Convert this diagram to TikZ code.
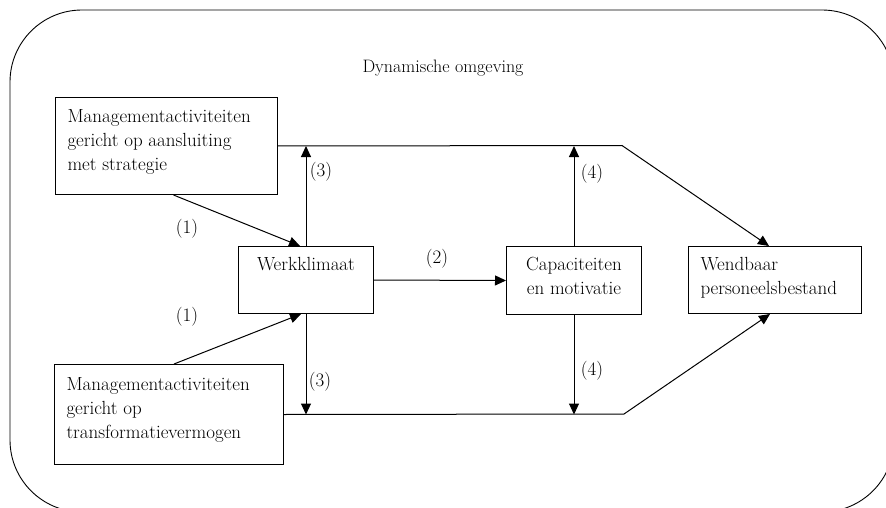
\documentclass[tikz,border=0pt]{standalone}
\usepackage{fontspec}
\setmainfont{Latin Modern Roman}
\usetikzlibrary{arrows.meta}
\begin{document}
\begin{tikzpicture}[x=1pt,y=-1pt,
  font=\fontsize{19}{24}\selectfont,
  blok/.style={draw, line width=1pt, anchor=north west, inner xsep=12pt, inner ysep=0pt},
  pijl/.style={line width=1pt, -{Triangle[length=11pt,width=10pt]}},
  omtrek/.style={line width=.9pt, rounded corners=72pt}]
  \useasboundingbox (0,0) rectangle (886,508);
  % omgeving
  \begin{scope}
    \clip (0,0) rectangle (886,508);
    \draw[omtrek] (10,10) rectangle (894,512);
  \end{scope}
  \node[font=\fontsize{18}{24}\selectfont] (omgeving) at (443,68) {Dynamische omgeving};
  % blokken
  \node[blok] (mgmtA) at (55,97) {\parbox[c][97pt][t]{198pt}{\raggedright\rule{0pt}{25pt}Managementactiviteiten\\ gericht op aansluiting\\ met strategie}};
  \node[blok] (mgmtB) at (54,364) {\parbox[c][100pt][t]{205pt}{\raggedright\rule{0pt}{26pt}Managementactiviteiten\\ gericht op\\ transformatievermogen}};
  \node[blok] (werk) at (238,246) {\parbox[c][67pt][t]{111pt}{\centering\rule{0pt}{24pt}Werkklimaat}};
  \node[blok] (cap) at (506,246) {\parbox[c][68pt][t]{111pt}{\centering\rule{0pt}{24pt}Capaciteiten\\ en motivatie}};
  \node[blok] (wendbaar) at (688,246) {\parbox[c][67pt][t]{149pt}{\raggedright\rule{0pt}{24pt}Wendbaar\\ personeelsbestand}};
  % knikpunten
  \coordinate (bovenknik) at (622,145.5);
  \coordinate (onderknik) at (624,414);
  % pijlen
  \draw[pijl] ([xshift=7pt]mgmtA.south) -- ([xshift=-6pt]werk.north);
  \draw[pijl] ([xshift=5pt]mgmtB.north) -- ([xshift=-5pt]werk.south);
  \draw[pijl] (werk.east) -- (cap.west);
  \draw[pijl] (werk.north) -- (werk.north |- mgmtA.east);
  \draw[pijl] (werk.south) -- (werk.south |- mgmtB.east);
  \draw[pijl] (cap.north) -- (cap.north |- mgmtA.east);
  \draw[pijl] (cap.south) -- (cap.south |- mgmtB.east);
  \draw[pijl] (mgmtA.east) -- (bovenknik) -- ([xshift=-6pt]wendbaar.north);
  \draw[pijl] (mgmtB.east) -- (onderknik) -- ([xshift=-5pt]wendbaar.south);
  % labels
  \node (l1a) at (187,229) {(1)};
  \node (l1b) at (187,317) {(1)};
  \node (l2) at (437,259) {(2)};
  \node (l3a) at (321,172) {(3)};
  \node (l3b) at (320,382) {(3)};
  \node (l4a) at (592,174) {(4)};
  \node (l4b) at (592,371) {(4)};
\end{tikzpicture}
\end{document}
